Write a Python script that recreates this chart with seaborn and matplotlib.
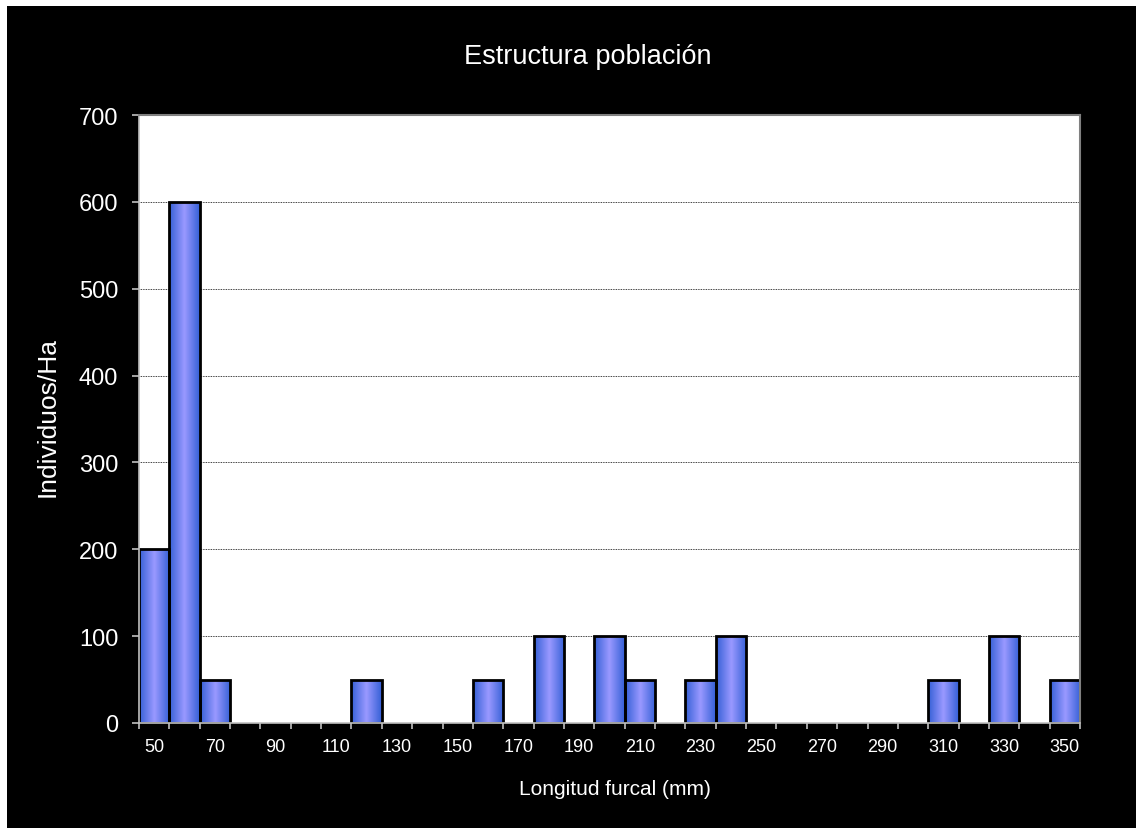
import numpy as np
import pandas as pd
import matplotlib
matplotlib.use('Agg')
import matplotlib.pyplot as plt
from matplotlib.colors import LinearSegmentedColormap
from matplotlib.ticker import FixedLocator
import seaborn as sns

TITLE = 'Estructura población'
X_LABEL = 'Longitud furcal (mm)'
Y_LABEL = 'Individuos/Ha'

# size classes (mm) and density per class
lengths = ['50', '60', '70', '80', '90', '100', '110', '120', '130', '140',
           '150', '160', '170', '180', '190', '200', '210', '220', '230', '240',
           '250', '260', '270', '280', '290', '300', '310', '320', '330', '340',
           '350']
individuals = [200, 600, 50, 0, 0, 0, 0, 50, 0, 0,
               0, 50, 0, 100, 0, 100, 50, 0, 50, 100,
               0, 0, 0, 0, 0, 0, 50, 0, 100, 0,
               50]
x_tick_labels = ['50', '70', '90', '110', '130', '150', '170', '190', '210',
                 '230', '250', '270', '290', '310', '330', '350']
y_ticks = [0, 100, 200, 300, 400, 500, 600, 700]

sns.set_style('white')
plt.rcParams['font.family'] = ['Liberation Sans', 'DejaVu Sans']

df = pd.DataFrame({'longitud': lengths, 'individuos': individuals})

W, H = 1136, 829
fig = plt.figure(figsize=(W / 100, H / 100), dpi=100, facecolor='white')
fig.add_artist(plt.Rectangle((7 / W, 0), 1, 1 - 7 / H, transform=fig.transFigure,
                             facecolor='black', edgecolor='none', zorder=-1))
ax = fig.add_axes([139 / W, 105 / H, 941 / W, 608 / H])
ax.set_facecolor('white')

sns.barplot(data=df, x='longitud', y='individuos', order=lengths, width=1,
            color='#9999FF', saturation=1, edgecolor='black', linewidth=2,
            ax=ax)

# horizontal blue gradient inside every bar, like the old spreadsheet fill
bar_cmap = LinearSegmentedColormap.from_list('bar', ['#9898FF', '#3560D6'])
grad = np.abs(np.linspace(-1, 1, 64)).reshape(1, -1)
for p in ax.patches:
    if p.get_height() == 0:
        p.set_visible(False)
        continue
    x0, y0 = p.get_x(), p.get_y()
    im = ax.imshow(grad, cmap=bar_cmap, aspect='auto', interpolation='bilinear',
                   extent=(x0, x0 + p.get_width(), y0, y0 + p.get_height()),
                   zorder=1.5)
    im.set_clip_path(p)
    p.set_facecolor('none')
    p.set_zorder(2)

ax.set_xlim(-0.5, len(lengths) - 0.5)
ax.set_ylim(0, 700)
ax.set_yticks(y_ticks)
ax.set_xticks(range(0, len(lengths), 2))
ax.set_xticklabels(x_tick_labels)
ax.xaxis.set_minor_locator(FixedLocator(np.arange(-0.5, len(lengths), 1)))

ax.set_axisbelow(True)
ax.yaxis.grid(True, color='black', linestyle=(0, (1, 1)), linewidth=0.6)
ax.xaxis.grid(False)

ax.tick_params(axis='x', which='major', length=0, pad=11, labelsize=13,
               labelcolor='white')
ax.tick_params(axis='x', which='minor', bottom=True, length=4, width=1.1,
               color='#D0D0D0', direction='out')
ax.tick_params(axis='y', which='major', left=True, length=5, width=1.1,
               color='#D0D0D0', direction='out', pad=10, labelsize=17,
               labelcolor='white')

for side in ['left', 'bottom']:
    ax.spines[side].set_color('#C0C0C0')
    ax.spines[side].set_linewidth(1.2)
for side in ['top', 'right']:
    ax.spines[side].set_color('#808080')
    ax.spines[side].set_linewidth(1.5)

ax.set_xlabel(X_LABEL, fontsize=15, color='white', va='center')
ax.xaxis.set_label_coords((615 - 139) / 941, -(790 - 724) / 608)
ax.set_ylabel(Y_LABEL, fontsize=19, color='white', va='center')
ax.yaxis.set_label_coords((48 - 139) / 941, (724 - 417) / 608)

fig.text(588 / W, 1 - 57 / H, TITLE, ha='center', va='center',
         fontsize=19.5, color='white')

fig.savefig('out.png', dpi=100, facecolor=fig.get_facecolor())
